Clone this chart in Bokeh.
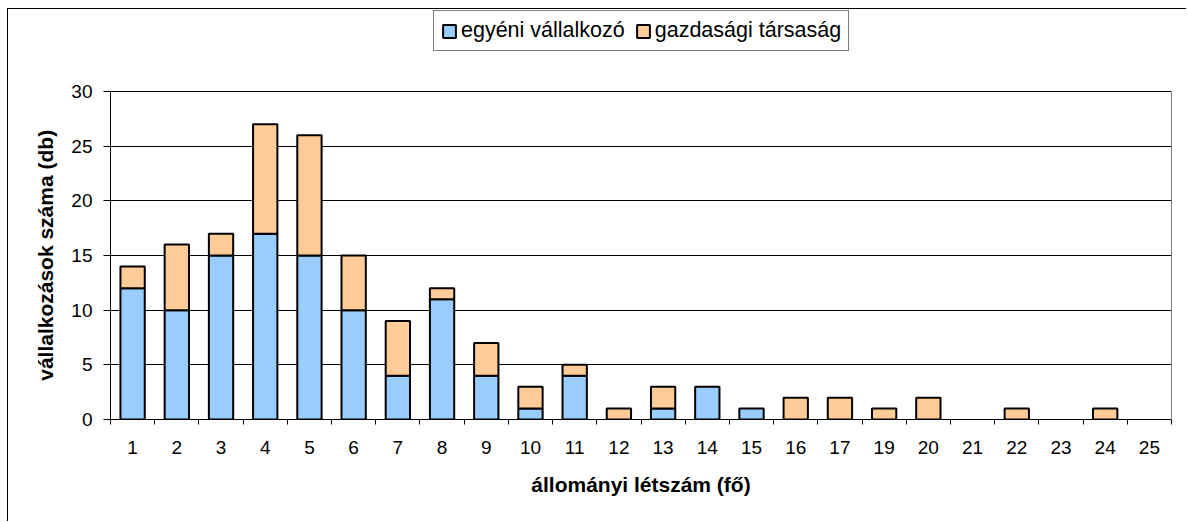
from bokeh.plotting import figure
from bokeh.models import ColumnDataSource, Range1d, FixedTicker, Legend, LegendItem, LinearAxis
from bokeh.embed import file_html
from bokeh.resources import INLINE

categories = ["1", "2", "3", "4", "5", "6", "7", "8", "9", "10", "11", "12",
              "13", "14", "15", "16", "17", "19", "20", "21", "22", "23", "24", "25"]
egyeni = [12, 10, 15, 17, 15, 10, 4, 11, 4, 1, 4, 0, 1, 3, 1, 0, 0, 0, 0, 0, 0, 0, 0, 0]
gazdasagi = [2, 6, 2, 10, 11, 5, 5, 1, 3, 2, 1, 1, 2, 0, 0, 2, 2, 1, 2, 0, 1, 0, 1, 0]
series_names = ["egyéni vállalkozó", "gazdasági társaság"]
y_ticks = [0, 5, 10, 15, 20, 25, 30]
x_title = "állományi létszám (fő)"
y_title = "vállalkozások száma (db)"

FONT = "Liberation Sans"
Y_MAX = 30
Y_TOP = 37.5  # extra room above the value axis for the legend
xs = list(range(1, len(categories) + 1))
source = ColumnDataSource(dict(
    x=xs, egyeni=egyeni, gazdasagi=gazdasagi,
    a_egy=[1 if v > 0 else 0 for v in egyeni],
    a_gaz=[1 if v > 0 else 0 for v in gazdasagi],
))

p = figure(width=1179, height=513, output_backend="svg", toolbar_location=None,
           x_range=Range1d(0.5, len(categories) + 0.5), y_range=Range1d(0, Y_TOP),
           min_border_left=102, min_border_right=16, min_border_top=0, min_border_bottom=103)
p.styles = {"position": "relative", "left": "7px", "top": "8px",
            "border-top": "1px solid black", "border-left": "1px solid black"}

renderers = p.vbar_stack(["egyeni", "gazdasagi"], x="x", width=0.55, source=source,
                         fill_color=["#99CCFF", "#FFCC99"], line_color="black", line_width=2,
                         line_alpha=["a_egy", "a_gaz"], fill_alpha=["a_egy", "a_gaz"])

# x axis
xa = p.xaxis[0]
xa.ticker = FixedTicker(ticks=xs, minor_ticks=[i + 0.5 for i in range(0, len(categories) + 1)])
xa.major_label_overrides = {x: c for x, c in zip(xs, categories)}
xa.major_tick_out = 0
xa.major_tick_in = 0
xa.minor_tick_out = 5
xa.minor_tick_in = 0
xa.minor_tick_line_color = "black"
xa.axis_line_color = "black"
xa.major_label_standoff = 16
xa.major_label_text_font = FONT
xa.major_label_text_font_size = "19px"
xa.major_label_text_color = "black"
xa.axis_label = x_title
xa.axis_label_text_font = FONT
xa.axis_label_text_font_size = "21px"
xa.axis_label_text_font_style = "bold"
xa.axis_label_text_color = "black"
xa.axis_label_standoff = 16

# y axis (label padded with no-break spaces so it centres on the 0-30 span)
ya = p.yaxis[0]
ya.bounds = (0, Y_MAX)
ya.ticker = FixedTicker(ticks=y_ticks, minor_ticks=[])
ya.major_tick_out = 7
ya.major_tick_in = 0
ya.major_tick_line_color = "black"
ya.axis_line_color = "black"
ya.major_label_standoff = 11
ya.major_label_text_font = FONT
ya.major_label_text_font_size = "19px"
ya.major_label_text_color = "black"
ya.axis_label = y_title + "\u00a0" * 14
ya.axis_label_text_font = FONT
ya.axis_label_text_font_size = "21px"
ya.axis_label_text_font_style = "bold"
ya.axis_label_text_color = "black"
ya.axis_label_standoff = 11

# right edge of the plot area (grey line from 0 to 30)
ra = LinearAxis(bounds=(0, Y_MAX), ticker=FixedTicker(ticks=[], minor_ticks=[]),
                axis_line_color="#808080", major_tick_line_color=None,
                minor_tick_line_color=None, major_label_text_alpha=0)
p.add_layout(ra, "right")

p.xgrid.grid_line_color = None
p.ygrid.grid_line_color = "black"
p.ygrid.grid_line_width = 1
p.ygrid.ticker = FixedTicker(ticks=y_ticks)
p.outline_line_color = None

legend = Legend(items=[LegendItem(label=n, renderers=[r]) for n, r in zip(series_names, renderers)],
                orientation="horizontal", location=(323, 368),
                label_text_font=FONT, label_text_font_size="21.5px", label_text_color="black",
                glyph_width=16, glyph_height=16, label_standoff=4, spacing=10,
                padding=7, margin=0, border_line_color="black", border_line_width=1,
                label_height=20, background_fill_alpha=1)
p.add_layout(legend, "center")

open("out.html", "w").write(file_html(p, INLINE))
